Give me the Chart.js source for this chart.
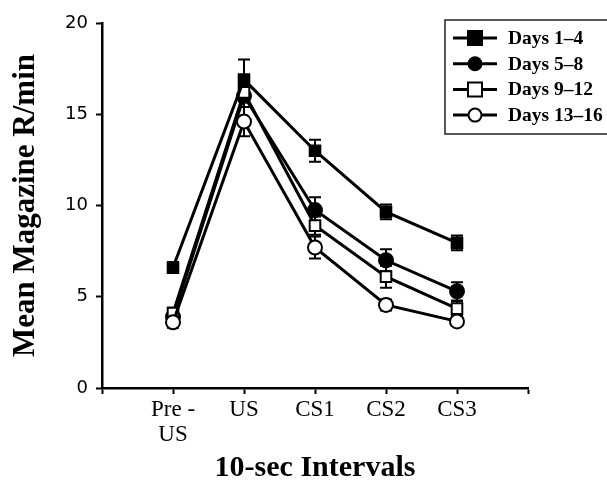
<!DOCTYPE html>
<html>
<head>
<meta charset="utf-8">
<script src="https://cdn.jsdelivr.net/npm/chart.js@4.4.1/dist/chart.umd.min.js"></script>
<style>
html,body{margin:0;padding:0;background:#fff;}
#wrap{width:607px;height:483px;position:relative;}
</style>
</head>
<body>
<div id="wrap"><canvas id="c" width="607" height="483"></canvas></div>
<script>
// ---- data ----
const categories = ['Pre-US', 'US', 'CS1', 'CS2', 'CS3'];
const seriesNames = ['Days 1\u20134', 'Days 5\u20138', 'Days 9\u201312', 'Days 13\u201316'];
const days1to4   = [6.6, 16.9, 13.0, 9.65, 7.95];
const days5to8   = [3.9, 16.0, 9.75, 7.0, 5.3];
const days9to12  = [4.1, 16.2, 8.9, 6.1, 4.35];
const days13to16 = [3.6, 14.6, 7.7, 4.55, 3.65];
const err1to4    = [0.3, 1.1, 0.6, 0.4, 0.4];
const err5to8    = [0.4, 0.6, 0.7, 0.6, 0.5];
const err9to12   = [0.3, 0.5, 0.5, 0.6, 0.4];
const err13to16  = [0.3, 0.8, 0.6, 0.3, 0.2];
const yTicks = [0, 5, 10, 15, 20];

const serif = '"Liberation Serif", "DejaVu Serif", serif';
const sans = '"DejaVu Sans", Verdana, sans-serif';

const labels = [''].concat(categories, ['']);
function pad(a){ return [null].concat(a, [null]); }

const styles = [
  {pointStyle:'rect', fill:'#000', r:7.5, order:0},
  {pointStyle:'circle', fill:'#000', r:7, order:3},
  {pointStyle:'rect', fill:'#fff', r:7.5, order:2},
  {pointStyle:'circle', fill:'#fff', r:7, order:1}
];
const values = [days1to4, days5to8, days9to12, days13to16];
const errs = [err1to4, err5to8, err9to12, err13to16];

const datasets = values.map((v, i) => ({
  label: seriesNames[i],
  data: pad(v),
  errors: pad(errs[i]),
  order: styles[i].order,
  borderColor: '#000',
  borderWidth: 3,
  pointStyle: styles[i].pointStyle,
  pointRadius: styles[i].r,
  pointBackgroundColor: styles[i].fill,
  pointBorderColor: '#000',
  pointBorderWidth: 2,
  tension: 0,
  spanGaps: false
}));

const errorBars = {
  id: 'errorBars',
  beforeDatasetsDraw(chart){
    const ctx = chart.ctx, ys = chart.scales.y, xs = chart.scales.x;
    ctx.save();
    ctx.strokeStyle = '#000';
    ctx.lineWidth = 2;
    chart.data.datasets.forEach(ds => {
      ds.data.forEach((v, j) => {
        if (v == null) return;
        const e = ds.errors[j];
        const x = xs.getPixelForValue(j);
        const yt = ys.getPixelForValue(v + e), yb = ys.getPixelForValue(v - e);
        ctx.beginPath();
        ctx.moveTo(x, yt); ctx.lineTo(x, yb);
        ctx.moveTo(x - 6, yt); ctx.lineTo(x + 6, yt);
        ctx.moveTo(x - 6, yb); ctx.lineTo(x + 6, yb);
        ctx.stroke();
      });
    });
    ctx.restore();
  }
};

const boxLegend = {
  id: 'boxLegend',
  afterDraw(chart){
    const ctx = chart.ctx;
    ctx.save();
    ctx.strokeStyle = '#222';
    ctx.lineWidth = 1.5;
    ctx.strokeRect(445, 20, 170, 114);
    ctx.font = 'bold 19.5px ' + serif;
    ctx.textBaseline = 'middle';
    ctx.fillStyle = '#000';
    chart.data.datasets.forEach((ds, i) => {
      const y = 38 + i * 25.7;
      ctx.lineWidth = 3;
      ctx.strokeStyle = '#000';
      ctx.beginPath(); ctx.moveTo(453, y); ctx.lineTo(497, y); ctx.stroke();
      ctx.lineWidth = 2;
      ctx.fillStyle = ds.pointBackgroundColor;
      ctx.beginPath();
      if (ds.pointStyle === 'rect') { ctx.rect(468, y - 7, 14, 14); }
      else { ctx.arc(475, y, 6.5, 0, Math.PI * 2); }
      ctx.fill(); ctx.stroke();
      ctx.fillStyle = '#000';
      ctx.fillText(ds.label, 508, y + 1);
    });
    ctx.restore();
  }
};

new Chart(document.getElementById('c'), {
  type: 'line',
  data: { labels: labels, datasets: datasets },
  plugins: [errorBars, boxLegend],
  options: {
    responsive: false,
    animation: false,
    devicePixelRatio: 1,
    layout: { padding: { top: 23, right: 79, left: 0, bottom: 0 } },
    plugins: { legend: { display: false }, tooltip: { enabled: false } },
    scales: {
      x: {
        type: 'category',
        offset: false,
        grid: { drawOnChartArea: false, drawTicks: true, tickLength: 6, tickWidth: 2, tickColor: '#000' },
        border: { display: true, color: '#000', width: 2.5 },
        ticks: {
          autoSkip: false, maxRotation: 0, color: '#000', padding: 3,
          font: { family: serif, size: 23, lineHeight: 1.1 },
          callback: function(v, i){ const l = labels[i]; return l.indexOf('-') > 0 ? [l.split('-')[0] + ' -', l.split('-')[1]] : l; }
        },
        title: { display: true, text: '10-sec Intervals', color: '#000', font: { family: serif, size: 30, weight: 'bold', lineHeight: 1.0 }, padding: { top: 0, bottom: 0 } },
        afterFit(s){ s.height = 95; }
      },
      y: {
        min: 0, max: 20,
        afterBuildTicks(s){ s.ticks = yTicks.map(v => ({ value: v })); },
        grid: { drawOnChartArea: false, drawTicks: true, tickLength: 6, tickWidth: 2, tickColor: '#000' },
        border: { display: true, color: '#000', width: 2.5 },
        ticks: { color: '#000', padding: 8, font: { family: sans, size: 18 } },
        title: { display: true, text: 'Mean Magazine R/min', color: '#000', font: { family: serif, size: 31, weight: 'bold', lineHeight: 1.0 }, padding: { top: 10, bottom: 0 } },
        afterFit(s){ s.width = 102; }
      }
    }
  }
});
</script>
</body>
</html>
